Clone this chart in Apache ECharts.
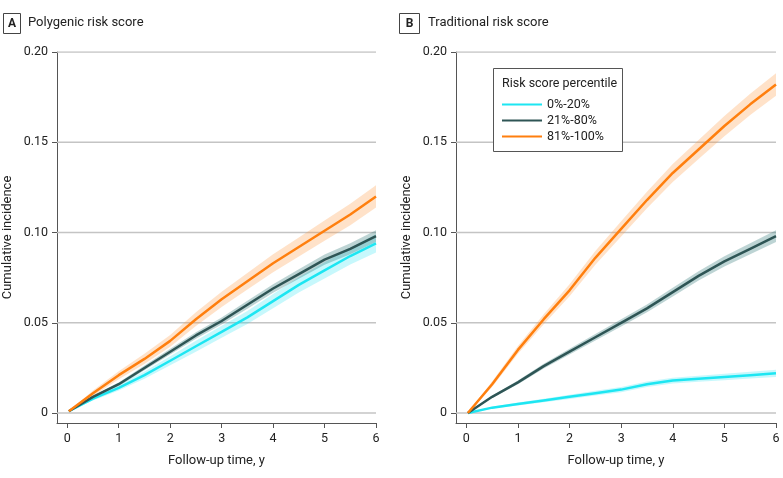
<!DOCTYPE html>
<html>
<head>
<meta charset="utf-8">
<script src="https://cdn.jsdelivr.net/npm/echarts@6/dist/echarts.min.js"></script>
<style>
  html, body { margin: 0; background: #fff; }
  #chart { width: 783px; height: 478px; }
</style>
</head>
<body>
<div id="chart"></div>
<script>
// follow-up time (years)
const time = [0.03, 0.5, 1, 1.5, 2, 2.5, 3, 3.5, 4, 4.5, 5, 5.5, 6];
const groups = ['0%-20%', '21%-80%', '81%-100%'];
const xTicks = [0, 1, 2, 3, 4, 5, 6];
const yTicks = [0, 0.05, 0.1, 0.15, 0.2];

// A: polygenic risk score, cumulative incidence + CI half-width
const polyLow = [0.001, 0.008, 0.014, 0.021, 0.029, 0.037, 0.045, 0.053, 0.062, 0.071, 0.079, 0.087, 0.094];
const polyMid = [0.001, 0.009, 0.016, 0.025, 0.034, 0.043, 0.051, 0.060, 0.069, 0.077, 0.085, 0.091, 0.098];
const polyHigh = [0.001, 0.011, 0.021, 0.030, 0.040, 0.052, 0.063, 0.073, 0.083, 0.092, 0.101, 0.110, 0.120];
const polyLowCI = [0, 0.001, 0.0015, 0.002, 0.0025, 0.003, 0.0033, 0.0036, 0.004, 0.0042, 0.0045, 0.0047, 0.005];
const polyMidCI = [0, 0.0006, 0.001, 0.0013, 0.0016, 0.0018, 0.002, 0.0022, 0.0024, 0.0026, 0.0028, 0.003, 0.0032];
const polyHighCI = [0, 0.0015, 0.0022, 0.0028, 0.0033, 0.0038, 0.0042, 0.0046, 0.005, 0.0053, 0.0056, 0.0059, 0.0062];

// B: traditional risk score
const tradLow = [0.000, 0.003, 0.005, 0.007, 0.009, 0.011, 0.013, 0.016, 0.018, 0.019, 0.020, 0.021, 0.022];
const tradMid = [0.000, 0.009, 0.017, 0.026, 0.034, 0.042, 0.050, 0.058, 0.067, 0.076, 0.084, 0.091, 0.098];
const tradHigh = [0.000, 0.016, 0.035, 0.052, 0.068, 0.086, 0.102, 0.118, 0.133, 0.146, 0.159, 0.171, 0.182];
const tradLowCI = [0, 0.0005, 0.0008, 0.001, 0.0012, 0.0013, 0.0014, 0.0015, 0.0016, 0.0017, 0.0018, 0.0019, 0.002];
const tradMidCI = [0, 0.0006, 0.001, 0.0013, 0.0016, 0.0018, 0.002, 0.0022, 0.0024, 0.0026, 0.0028, 0.003, 0.0032];
const tradHighCI = [0, 0.0015, 0.0022, 0.0028, 0.0033, 0.0038, 0.0042, 0.0046, 0.005, 0.0053, 0.0056, 0.0059, 0.0062];

const lineColors = ['#1de6f2', '#2e5555', '#ff7f0e'];
const bandColors = ['rgba(0,225,240,0.22)', 'rgba(50,120,120,0.32)', 'rgba(255,150,60,0.28)'];
const font = 'Roboto';
const textColor = '#222';

const chart = echarts.init(document.getElementById('chart'));

function xAxisFor(idx) {
  return {
    type: 'value', gridIndex: idx, min: -0.2, max: 6,
    name: 'Follow-up time, y', nameLocation: 'middle', nameGap: 31,
    nameTextStyle: { fontFamily: font, fontSize: 13, color: textColor },
    axisLine: { show: true, onZero: false, lineStyle: { color: '#555', width: 1 } },
    axisTick: { show: true, length: 5, customValues: xTicks, lineStyle: { color: '#555' } },
    axisLabel: { customValues: xTicks, fontFamily: font, fontSize: 12.5, color: textColor, margin: 9 },
    splitLine: { show: false }
  };
}

function yAxisFor(idx) {
  return {
    type: 'value', gridIndex: idx, min: -0.0055, max: 0.2,
    name: 'Cumulative incidence', nameLocation: 'middle', nameGap: 43,
    nameTextStyle: { fontFamily: font, fontSize: 13, color: textColor },
    axisLine: { show: true, onZero: false, lineStyle: { color: '#555', width: 1 } },
    axisTick: { show: true, length: 5, customValues: yTicks, lineStyle: { color: '#555' } },
    axisLabel: {
      customValues: yTicks, fontFamily: font, fontSize: 12.5, color: textColor, margin: 9,
      formatter: v => (v === 0 ? '0' : v.toFixed(2))
    },
    splitLine: { show: false }
  };
}

// horizontal gridlines through the y ticks, one small line series per tick
function gridSeries(idx) {
  return yTicks.map(v => ({
    type: 'line', xAxisIndex: idx, yAxisIndex: idx, z: 1, silent: true,
    data: [[-0.2, v], [6, v]],
    showSymbol: false, symbol: 'none',
    lineStyle: { color: '#c4c4c4', width: 1.5 }
  }));
}

// confidence band drawn as one polygon
function bandSeries(idx, est, ci, color) {
  const data = time.map((t, i) => [t, est[i] - ci[i], est[i] + ci[i]]);
  return {
    type: 'custom', xAxisIndex: idx, yAxisIndex: idx, z: 2, silent: true,
    data: data,
    renderItem: (params, api) => {
      if (params.dataIndex !== 0) return null;
      const upper = data.map(d => api.coord([d[0], d[2]]));
      const lower = data.map(d => api.coord([d[0], d[1]])).reverse();
      return { type: 'polygon', shape: { points: upper.concat(lower) }, style: { fill: color } };
    }
  };
}

function lineSeries(idx, name, est, color) {
  return {
    name: name, type: 'line', xAxisIndex: idx, yAxisIndex: idx, z: 3,
    data: time.map((t, i) => [t, est[i]]),
    showSymbol: false, symbol: 'none',
    lineStyle: { color: color, width: 2.5 }, itemStyle: { color: color }
  };
}

const panels = [
  [polyLow, polyMid, polyHigh, polyLowCI, polyMidCI, polyHighCI],
  [tradLow, tradMid, tradHigh, tradLowCI, tradMidCI, tradHighCI]
];

const series = [];
panels.forEach((p, idx) => {
  series.push(...gridSeries(idx));
  for (let g = 0; g < 3; g++) series.push(bandSeries(idx, p[g], p[g + 3], bandColors[g]));
  for (let g = 0; g < 3; g++) series.push(lineSeries(idx, groups[g], p[g], lineColors[g]));
});

const option = {
  backgroundColor: '#fff',
  animation: false,
  grid: [
    { left: 57, right: 407, top: 52, bottom: 55 },
    { left: 456, right: 7, top: 52, bottom: 55 }
  ],
  xAxis: [xAxisFor(0), xAxisFor(1)],
  yAxis: [yAxisFor(0), yAxisFor(1)],
  legend: {
    z: 20,
    data: groups, orient: 'vertical', left: 497, top: 93, itemGap: 3,
    icon: 'rect', itemWidth: 40, itemHeight: 2,
    textStyle: { fontFamily: font, fontSize: 12.5, color: textColor },
    selectedMode: false
  },
  graphic: [
    { type: 'rect', shape: { x: 3.5, y: 13.5, width: 17, height: 20 }, style: { fill: '#fff', stroke: '#444', lineWidth: 1 } },
    { type: 'text', x: 12, y: 24, style: { text: 'A', fontFamily: font, fontWeight: 'bold', fontSize: 12, fill: '#222', align: 'center', verticalAlign: 'middle' } },
    { type: 'text', x: 28, y: 23, style: { text: 'Polygenic risk score', fontFamily: font, fontSize: 13, fill: textColor, verticalAlign: 'middle' } },
    { type: 'rect', shape: { x: 399.5, y: 13.5, width: 20, height: 20 }, style: { fill: '#fff', stroke: '#444', lineWidth: 1 } },
    { type: 'text', x: 409.5, y: 24, style: { text: 'B', fontFamily: font, fontWeight: 'bold', fontSize: 12, fill: '#222', align: 'center', verticalAlign: 'middle' } },
    { type: 'text', x: 428, y: 23, style: { text: 'Traditional risk score', fontFamily: font, fontSize: 13, fill: textColor, verticalAlign: 'middle' } },
    { type: 'rect', z: 5, shape: { x: 493.5, y: 68.5, width: 129, height: 83 }, style: { fill: '#fff', stroke: '#555', lineWidth: 1 } },
    { type: 'text', z: 6, x: 502, y: 84, style: { text: 'Risk score percentile', fontFamily: font, fontSize: 12.5, fill: textColor, verticalAlign: 'middle' } }
  ],
  series: series
};

chart.setOption(option);
</script>
</body>
</html>
